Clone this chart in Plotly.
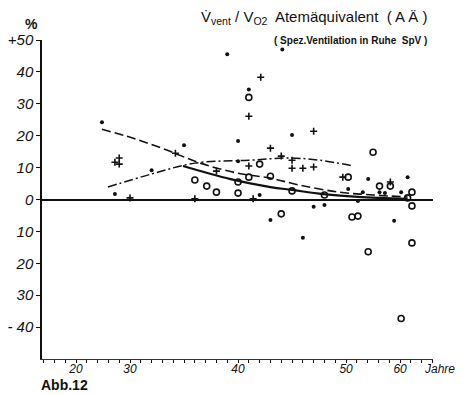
import plotly.graph_objects as go

# ---------------- data (age in years, value in %) ----------------
plus_age = [27.2, 28.0, 28.0, 30.0, 34.2, 36.0, 38.0, 41.0, 42.1, 41.0, 43.0, 44.0, 45.0, 45.0, 46.0, 47.0, 47.0, 49.7, 58.2, 41.4]
plus_val = [11.7, 13.0, 11.1, 0.5, 14.5, 0.2, 8.9, 26.1, 38.3, 10.5, 16.1, 13.6, 12.3, 9.8, 9.8, 10.2, 21.4, 7.0, 5.5, 0.2]

dot_age = [24.8, 32.0, 35.0, 27.2, 39.0, 44.1, 41.0, 40.0, 45.0, 40.0, 42.0, 43.0, 46.0, 47.0, 48.0,
           54.1, 53.1, 50.4, 52.2, 56.2, 57.2, 58.9, 60.2, 61.4]
dot_val = [24.2, 9.2, 17.0, 1.7, 45.5, 47.0, 34.5, 18.3, 20.2, 12.0, 1.4, -6.4, -12.0, -2.3, -1.7,
           6.4, 2.3, 3.3, -0.5, 2.3, 2.0, -6.7, 2.3, 7.0]

circ_age = [36.0, 37.1, 38.0, 40.0, 40.0, 41.0, 41.0, 42.0, 43.0, 44.0, 45.0, 48.0, 50.4, 55.0, 56.2,
            58.2, 62.2, 61.4, 62.2, 51.1, 52.2, 54.1, 62.2, 60.2]
circ_val = [6.1, 4.2, 2.3, 5.5, 2.0, 7.0, 32.0, 11.1, 7.3, -4.5, 2.7, 1.4, 7.0, 14.8, 4.2,
            4.2, 2.3, 0.5, -2.0, -5.5, -5.2, -16.4, -13.6, -37.3]

dash_age = [24.8, 30.3, 33.4, 36.5, 39.9, 43.0, 45.7, 49.4, 55.0, 61.4]
dash_val = [22.0, 19.2, 15.5, 11.4, 8.3, 6.7, 4.5, 2.3, 1.4, 0.8]

dashdot_age = [25.9, 32.0, 36.0, 41.0, 44.8, 47.6, 51.3]
dashdot_val = [3.9, 8.0, 11.4, 12.3, 13.0, 12.3, 10.5]

solid_age = [34.9, 39.3, 43.0, 45.0, 47.9, 52.2, 61.4]
solid_val = [10.5, 6.4, 3.9, 3.0, 1.7, 0.8, 0.2]

x_tick_ages = [20, 30, 40, 50, 60]
y_tick_vals = [50, 40, 30, 20, 10, 0, -10, -20, -30, -40]
y_tick_text = ["+50", "40", "30", "20", "10", "0", "10", "20", "30", "- 40"]


# The original age axis is compressed 2:1 below 30 and above 50 years.
def axis_pos(age):
    if age < 30:
        return 30 - (30 - age) / 2
    if age > 50:
        return 50 + (age - 50) / 2
    return age


def conv(ages):
    return [axis_pos(a) for a in ages]


INK = "#111111"
fig = go.Figure()

fig.add_trace(go.Scatter(x=conv(dash_age), y=dash_val, mode="lines",
                         line=dict(color=INK, width=1.6, dash="9px,4px", shape="spline")))
fig.add_trace(go.Scatter(x=conv(dashdot_age), y=dashdot_val, mode="lines",
                         line=dict(color=INK, width=1.5, dash="9px,3px,2px,3px", shape="spline")))
fig.add_trace(go.Scatter(x=conv(solid_age), y=solid_val, mode="lines",
                         line=dict(color=INK, width=2.2, shape="spline")))

fig.add_trace(go.Scatter(x=conv(circ_age), y=circ_val, mode="markers",
                         marker=dict(symbol="circle-open", size=6, color=INK, line=dict(width=1.6))))
fig.add_trace(go.Scatter(x=conv(dot_age), y=dot_val, mode="markers",
                         marker=dict(symbol="circle", size=4, color=INK)))
fig.add_trace(go.Scatter(x=conv(plus_age), y=plus_val, mode="markers",
                         marker=dict(symbol="cross-thin", size=5, color=INK, line=dict(width=1.6, color=INK))))

# page body has an 8px margin, so the figure is sized to fit inside the window
fig.update_layout(
    width=457, height=387,
    margin=dict(l=34, r=32, t=32, b=36),
    paper_bgcolor="white", plot_bgcolor="white",
    showlegend=False,
    font=dict(family="Liberation Sans", color=INK),
    xaxis=dict(
        range=[axis_pos(20) - 3.15, axis_pos(60) + 3.05],
        automargin=False,
        tickvals=conv(x_tick_ages), ticktext=[str(a) for a in x_tick_ages],
        ticks="outside", ticklen=3, tickwidth=1, tickcolor=INK,
        ticklabelstandoff=-4,
        minor=dict(dtick=1, tick0=0, ticks="outside", ticklen=3, tickcolor=INK),
        showline=True, linecolor="#333333", linewidth=1,
        showgrid=False, zeroline=False,
        tickfont=dict(family="Liberation Sans", size=12, style="italic", color=INK),
    ),
    yaxis=dict(
        range=[-50, 50],
        automargin=False,
        tickvals=y_tick_vals, ticktext=y_tick_text,
        ticks="outside", ticklen=4, tickwidth=1.2, tickcolor=INK,
        showline=True, linecolor=INK, linewidth=1.5,
        showgrid=False,
        zeroline=True, zerolinecolor=INK, zerolinewidth=2,
        tickfont=dict(family="Liberation Sans", size=15, style="italic", color=INK),
    ),
)

fig.add_annotation(xref="paper", yref="paper", x=-0.028, y=1.05, xanchor="center", yanchor="middle",
                   text="<b>%</b>", showarrow=False, font=dict(size=14, color=INK))
fig.add_annotation(xref="paper", yref="paper", x=0.972, y=-0.03, xanchor="left", yanchor="middle",
                   text="<i>Jahre</i>", showarrow=False, font=dict(size=12, color=INK))
fig.add_annotation(xref="paper", yref="paper", x=-0.008, y=-0.083, xanchor="left", yanchor="middle",
                   text="<b>Abb.12</b>", showarrow=False, font=dict(size=14, color=INK))
fig.add_annotation(xref="paper", yref="paper", x=0.402, y=1.072, xanchor="left", yanchor="middle",
                   text="V\u0307<sub>vent</sub> / V<sub>O2</sub>  Atemäquivalent  ( A Ä )",
                   showarrow=False, font=dict(size=15, color=INK))
fig.add_annotation(xref="paper", yref="paper", x=0.588, y=1.0, xanchor="left", yanchor="middle",
                   text="<b>( Spez.Ventilation in Ruhe  SpV )</b>",
                   showarrow=False, font=dict(size=10, color=INK))

fig.write_html("out.html")
